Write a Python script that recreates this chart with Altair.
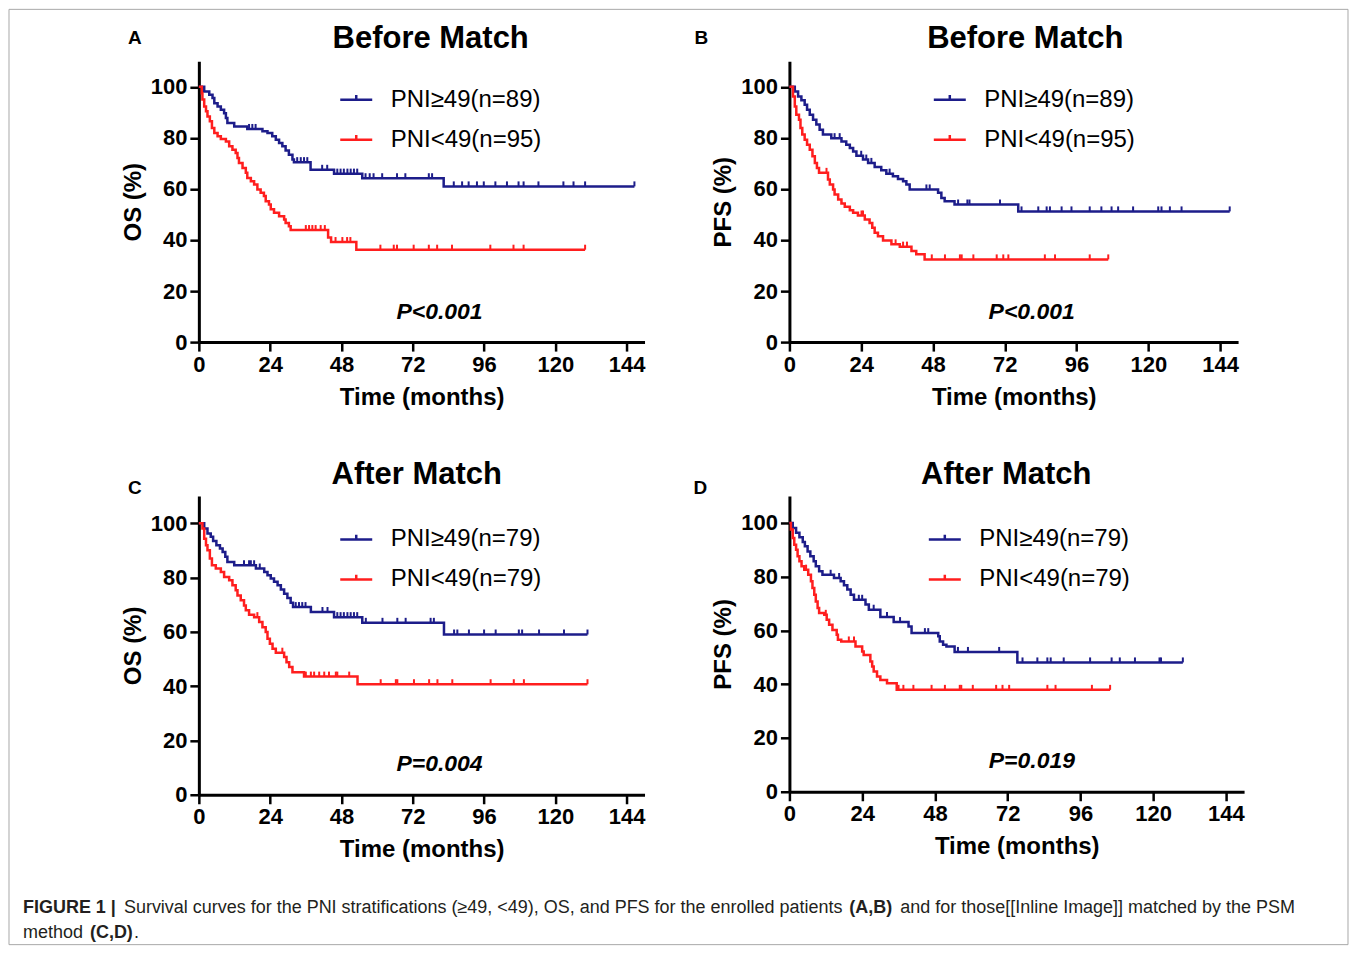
import altair as alt
import pandas as pd

FONT = "Liberation Sans, Arial, Helvetica, sans-serif"
BLUE = "#1d1d8a"
RED = "#ff1e1e"

X_TICKS = [0, 24, 48, 72, 96, 120, 144]
Y_TICKS = [0, 20, 40, 60, 80, 100]

# ---------------- Panel A : OS before match ----------------
A_LABELS = ["PNI\u226549(n=89)", "PNI<49(n=95)"]
A_HI_T = [0, 1.8, 3.5, 4.6, 5.2, 6.3, 7.4, 8.5, 9.1, 9.6, 11.9, 16.3, 21.4, 23.1, 24.7, 25.9, 27.0,
          28.1, 29.2, 30.3, 31.5, 32.0, 37.6, 45.5, 55.0, 82.4]
A_HI_S = [100, 98.2, 96.9, 95.6, 93.6, 92.3, 91.0, 89.7, 87.8, 85.8, 84.5, 83.5, 82.6, 81.9, 80.6, 79.3,
          78.0, 76.7, 75.1, 73.4, 71.5, 70.5, 67.5, 66.0, 64.2, 61.0]
A_HI_CENS = [16.9, 18.0, 19.1, 33.1, 34.3, 35.4, 36.5, 41.5, 43.2, 46.6, 47.7, 48.8, 50.0, 51.1, 52.2,
             53.3, 56.1, 57.5, 58.8, 61.7, 66.7, 69.5, 77.4, 78.5, 85.8, 88.6, 90.8, 93.6, 95.9, 99.8,
             103.7, 107.6, 109.3, 114.3, 122.7, 126.1, 130.0]
A_HI_END = 146.6
A_LO_T = [0, 1.0, 1.2, 1.8, 2.4, 2.9, 3.7, 4.4, 5.2, 6.3, 7.4, 9.1, 10.2, 11.3, 12.4, 13.0, 13.5, 14.7,
          15.8, 16.3, 17.5, 18.6, 19.7, 20.8, 21.9, 22.5, 23.6, 24.2, 25.3, 27.0, 28.7, 29.2, 30.3, 30.9,
          43.5, 44.5, 53.0]
A_LO_S = [100, 97.5, 95.0, 92.3, 90.4, 88.4, 86.5, 83.9, 81.9, 80.6, 79.6, 78.6, 76.7, 75.4, 74.1, 72.1,
          70.2, 68.2, 66.3, 64.3, 63.0, 61.7, 59.8, 58.5, 57.2, 55.2, 53.9, 52.0, 50.7, 49.3, 48.0, 46.7,
          45.4, 43.9, 41.0, 39.2, 36.2]
A_LO_CENS = [36.0, 37.1, 38.2, 39.3, 41.0, 42.4, 46.0, 48.3, 49.9, 51.0, 61.1, 65.6, 66.7, 72.3, 77.4,
             80.2, 85.2, 98.1, 105.9, 109.3]
A_LO_END = 130.0

# ---------------- Panel B : PFS before match ----------------
B_LABELS = ["PNI\u226549(n=89)", "PNI<49(n=95)"]
B_HI_T = [0, 1.8, 2.9, 4.0, 5.1, 5.9, 6.8, 7.9, 9.0, 10.1, 11.2, 14.0, 17.4, 19.0, 20.2, 21.3, 22.4,
          24.6, 26.3, 28.5, 30.7, 32.4, 34.6, 36.3, 38.0, 39.1, 40.2, 49.7, 50.8, 51.9, 55.2, 76.5]
B_HI_S = [100, 98.2, 96.2, 94.7, 93.0, 91.0, 89.1, 87.1, 85.2, 83.2, 81.3, 79.9, 78.6, 77.3, 76.0, 74.7,
          73.0, 71.5, 70.2, 68.6, 67.3, 66.0, 65.0, 63.9, 63.0, 61.7, 59.8, 58.5, 56.5, 55.2, 53.9, 51.2]
B_HI_CENS = [15.1, 16.8, 24.0, 25.7, 27.4, 33.5, 45.8, 46.9, 56.4, 59.5, 60.2, 70.4, 77.6, 83.2, 86.0,
             87.1, 91.0, 94.3, 100.4, 104.3, 107.7, 109.9, 114.9, 123.3, 124.4, 127.2, 131.1]
B_HI_END = 147.2
B_LO_T = [0, 1.2, 1.8, 2.3, 3.2, 3.7, 4.3, 5.1, 5.9, 6.8, 7.7, 8.5, 9.2, 9.9, 12.9, 13.5, 14.6, 15.1,
          16.3, 17.4, 18.5, 20.2, 21.3, 22.9, 25.2, 26.8, 27.7, 28.5, 29.6, 31.3, 34.1, 36.9, 40.8, 42.4,
          45.2]
B_LO_S = [100, 96.2, 92.3, 89.1, 87.1, 83.9, 81.3, 79.3, 77.3, 75.4, 72.8, 70.2, 68.2, 66.3, 63.7, 61.7,
          59.8, 57.8, 55.9, 54.3, 53.0, 51.7, 50.7, 49.6, 48.0, 46.7, 44.8, 42.8, 41.5, 39.8, 38.3, 37.4,
          35.7, 34.4, 32.4]
B_LO_CENS = [12.4, 24.1, 24.6, 35.5, 38.0, 39.3, 47.6, 52.0, 57.0, 57.6, 61.5, 69.3, 71.5, 73.2, 85.4,
             88.8, 100.4]
B_LO_END = 106.6

# ---------------- Panel C : OS after match ----------------
C_LABELS = ["PNI\u226549(n=79)", "PNI<49(n=79)"]
C_HI_T = [0, 1.8, 2.9, 4.0, 4.8, 5.9, 7.1, 8.0, 8.9, 9.6, 11.9, 19.2, 22.0, 23.1, 24.2, 25.3, 26.5,
          27.6, 28.7, 29.8, 30.9, 31.7, 37.7, 45.5, 55.0, 82.5]
C_HI_S = [100, 98.0, 96.2, 95.0, 93.4, 91.9, 90.7, 89.4, 87.6, 85.7, 84.5, 83.3, 82.0, 80.8, 79.6, 78.4,
          77.1, 75.6, 74.0, 72.4, 70.7, 69.1, 67.3, 65.4, 63.3, 59.0]
C_HI_CENS = [15.2, 16.9, 17.5, 18.6, 20.5, 32.6, 33.7, 34.8, 35.9, 41.6, 43.3, 46.6, 47.7, 48.8, 50.0,
             51.1, 52.2, 53.3, 56.2, 61.8, 66.8, 69.6, 78.0, 79.1, 85.9, 87.0, 90.9, 96.0, 99.9, 107.7,
             108.8, 114.5, 122.9]
C_HI_END = 130.8
C_LO_T = [0, 1.2, 1.8, 2.4, 2.9, 3.7, 4.4, 5.7, 7.4, 8.5, 10.2, 11.3, 12.4, 13.0, 14.1, 15.2, 15.8, 16.9,
          18.6, 20.3, 21.4, 22.5, 23.1, 23.9, 24.8, 25.9, 28.7, 29.5, 30.4, 31.5, 35.4, 53.4]
C_LO_S = [100, 98.0, 94.3, 91.9, 90.0, 87.0, 84.5, 83.3, 82.0, 80.2, 79.0, 77.1, 75.3, 73.4, 71.6, 69.7,
          67.9, 66.3, 65.4, 63.6, 61.7, 59.9, 57.4, 55.6, 53.8, 52.3, 50.7, 48.8, 47.0, 45.1, 43.5, 40.7]
C_LO_CENS = [19.7, 28.1, 36.0, 37.7, 38.8, 40.5, 42.2, 43.8, 46.1, 46.6, 50.6, 61.2, 66.3, 66.8, 72.4,
             77.5, 80.3, 85.3, 98.2, 106.0, 109.4]
C_LO_END = 130.8

# ---------------- Panel D : PFS after match ----------------
D_LABELS = ["PNI\u226549(n=79)", "PNI<49(n=79)"]
D_HI_T = [0, 1.1, 2.2, 3.3, 4.4, 5.1, 6.0, 6.9, 8.0, 8.7, 9.8, 10.9, 14.7, 16.9, 18.0, 19.1, 20.2, 21.3,
          25.1, 26.2, 30.0, 34.4, 39.3, 40.3, 49.1, 49.6, 50.7, 51.8, 54.5, 75.2]
D_HI_S = [100, 98.1, 96.3, 94.7, 92.9, 91.3, 89.4, 87.6, 85.7, 83.9, 82.0, 80.7, 79.5, 78.3, 76.8, 75.2,
          73.3, 71.4, 69.6, 67.7, 65.0, 63.1, 61.5, 59.0, 57.8, 55.9, 54.7, 54.0, 52.0, 48.1]
D_HI_CENS = [13.6, 16.4, 22.9, 24.0, 27.8, 32.2, 36.5, 44.7, 45.8, 55.6, 58.9, 69.2, 76.9, 81.8, 85.1,
             86.2, 90.5, 99.2, 106.3, 109.0, 114.0, 122.1, 122.6]
D_HI_END = 129.8
D_LO_T = [0, 0.5, 1.1, 1.6, 2.2, 2.7, 3.3, 4.0, 4.9, 6.2, 7.1, 7.6, 8.2, 8.7, 9.3, 9.8, 11.5, 12.3, 13.1,
          14.2, 15.6, 16.0, 17.1, 21.8, 24.0, 24.5, 26.7, 27.3, 27.8, 28.9, 30.0, 32.2, 35.4]
D_LO_S = [100, 97.5, 94.4, 91.9, 90.0, 87.6, 85.7, 83.9, 82.6, 80.7, 78.3, 75.8, 73.3, 70.8, 68.3, 66.5,
          65.8, 64.0, 62.1, 60.2, 58.4, 56.5, 55.9, 54.0, 52.2, 50.9, 48.4, 46.6, 44.7, 42.9, 41.6, 40.4,
          37.9]
D_LO_CENS = [5.5, 12.0, 19.6, 21.3, 36.0, 37.6, 40.9, 46.9, 51.3, 56.2, 56.7, 60.5, 68.2, 70.3, 72.5,
             85.1, 87.8, 99.8]
D_LO_END = 105.8

TITLES = ["Before Match", "Before Match", "After Match", "After Match"]
LETTERS = ["A", "B", "C", "D"]
Y_TITLES = ["OS (%)", "PFS (%)", "OS (%)", "PFS (%)"]
P_TEXTS = ["P<0.001", "P<0.001", "P=0.004", "P=0.019"]

CAPTION_1 = ["FIGURE 1 |",
             "Survival curves for the PNI stratifications (\u226549, <49), OS, and PFS for the enrolled patients",
             "(A,B)",
             "and for those[[Inline Image]] matched by the PSM"]
CAPTION_2 = ["method", "(C,D)", "."]


def step_rows(t, s, end, group):
    rows = [{"t": a, "s": b, "g": group} for a, b in zip(t, s)]
    rows.append({"t": end, "s": s[-1], "g": group})
    return rows


def censor_rows(t, s, cens, end, group):
    rows = []
    for c in list(cens) + [end]:
        v = s[0]
        for a, b in zip(t, s):
            if a <= c:
                v = b
        rows.append({"t": c, "s": v, "g": group})
    return rows


def label_text(txt, x, y, size, weight="bold", align="left", color="black"):
    return alt.Chart(pd.DataFrame([{"txt": txt}])).mark_text(
        font=FONT, fontSize=size, fontWeight=weight, color=color, align=align,
        baseline="alphabetic").encode(x=alt.value(x), y=alt.value(y), text="txt:N")


def panel(i, labels, hi, lo, width, height, title_xy, letter_xy, ppos, legend_xy, extra=None):
    line_df = pd.DataFrame(step_rows(hi[0], hi[1], hi[3], labels[0]) +
                           step_rows(lo[0], lo[1], lo[3], labels[1]))
    cens_df = pd.DataFrame(censor_rows(hi[0], hi[1], hi[2], hi[3], labels[0]) +
                           censor_rows(lo[0], lo[1], lo[2], lo[3], labels[1]))
    xenc = alt.X("t:Q", scale=alt.Scale(domain=[0, 150], nice=False),
                 axis=alt.Axis(values=X_TICKS, title="Time (months)", titlePadding=10))
    yenc = alt.Y("s:Q", scale=alt.Scale(domain=[0, 110], nice=False),
                 axis=alt.Axis(values=Y_TICKS, title=Y_TITLES[i], titlePadding=5))
    cscale = alt.Scale(domain=labels, range=[BLUE, RED])
    lines = alt.Chart(line_df).mark_line(interpolate="step-after", strokeWidth=2.5).encode(
        x=xenc, y=yenc,
        color=alt.Color("g:N", scale=cscale, sort=labels,
                        legend=alt.Legend(title=None, orient="none", direction="vertical",
                                          legendX=legend_xy[0], legendY=legend_xy[1],
                                          symbolType="M-1,0L1,0M0,0L0,-0.3", symbolSize=1024,
                                          symbolStrokeWidth=2.5, labelFont=FONT, labelFontSize=24,
                                          labelColor="black", labelOffset=17, rowPadding=10,
                                          padding=0, labelLimit=400)))
    ticks = alt.Chart(cens_df).mark_point(shape="M0,0L0,-1", size=100, strokeWidth=2, filled=False,
                                           opacity=1).encode(
        x="t:Q", y="s:Q", color=alt.Color("g:N", scale=cscale, legend=None))
    ptxt = alt.Chart(pd.DataFrame([{"t": ppos[0], "s": ppos[1], "txt": P_TEXTS[i]}])).mark_text(
        font=FONT, fontSize=23, fontWeight="bold", fontStyle="italic", color="black",
        align="center", baseline="middle").encode(x="t:Q", y="s:Q", text="txt:N")
    ttl = label_text(TITLES[i], title_xy[0], title_xy[1], 31, align="center")
    let = label_text(LETTERS[i], letter_xy[0], letter_xy[1], 19)
    layers = [lines, ticks, ptxt, ttl, let] + (extra or [])
    return alt.layer(*layers).properties(width=width, height=height)


# figure frame and caption, positioned relative to panel C's plot origin (page 198, 495)
cap_base = alt.Chart(pd.DataFrame([{"k": 0}]))
border = cap_base.mark_rect(fillOpacity=0, stroke="#a8a8a8", strokeWidth=1).encode(
    x=alt.value(-190), x2=alt.value(1150), y=alt.value(-487), y2=alt.value(449))
cap_layers = [border]
cap_specs = [(CAPTION_1[0], -176, 417, "bold"), (CAPTION_1[1], -75, 417, "normal"),
             (CAPTION_1[2], 651, 417, "bold"), (CAPTION_1[3], 702, 417, "normal"),
             (CAPTION_2[0], -176, 442, "normal"), (CAPTION_2[1], -109, 442, "bold"),
             (CAPTION_2[2], -65, 442, "normal")]
for txt, cx, cy, wt in cap_specs:
    cap_layers.append(label_text(txt, cx, cy, 18, weight=wt, color="#231f20"))

pA = panel(0, A_LABELS, (A_HI_T, A_HI_S, A_HI_CENS, A_HI_END), (A_LO_T, A_LO_S, A_LO_CENS, A_LO_END),
           446, 281, (232, -13), (-71, -17), (81, 11.7), (140, 21))
pB = panel(1, B_LABELS, (B_HI_T, B_HI_S, B_HI_CENS, B_HI_END), (B_LO_T, B_LO_S, B_LO_CENS, B_LO_END),
           449, 281, (236, -13), (-95, -17), (81, 11.7), (143, 21))
pC = panel(2, C_LABELS, (C_HI_T, C_HI_S, C_HI_CENS, C_HI_END), (C_LO_T, C_LO_S, C_LO_CENS, C_LO_END),
           446, 299, (218, -12), (-71, -2), (81, 11.4), (140, 26), extra=cap_layers)
pD = panel(3, D_LABELS, (D_HI_T, D_HI_S, D_HI_CENS, D_HI_END), (D_LO_T, D_LO_S, D_LO_CENS, D_LO_END),
           455, 296, (217, -12), (-96, -2), (80, 11.4), (138, 26))

chart = alt.concat(pA, pB, pC, pD, columns=2, spacing={"row": 154, "column": 145},
                   bounds="flush").resolve_scale(
    color="independent").properties(padding=0, background="white").configure_view(
    strokeWidth=0).configure_axis(
    domainColor="black", domainWidth=3, tickColor="black", tickWidth=2.5, tickSize=9,
    labelFont=FONT, labelFontSize=22, labelFontWeight="bold", labelColor="black", labelPadding=3,
    labelFlush=False, labelOverlap=False, titleFont=FONT, titleFontSize=24, titleFontWeight="bold",
    titleColor="black", grid=False)

chart.save("out.html", embed_options={"renderer": "svg", "actions": False})
